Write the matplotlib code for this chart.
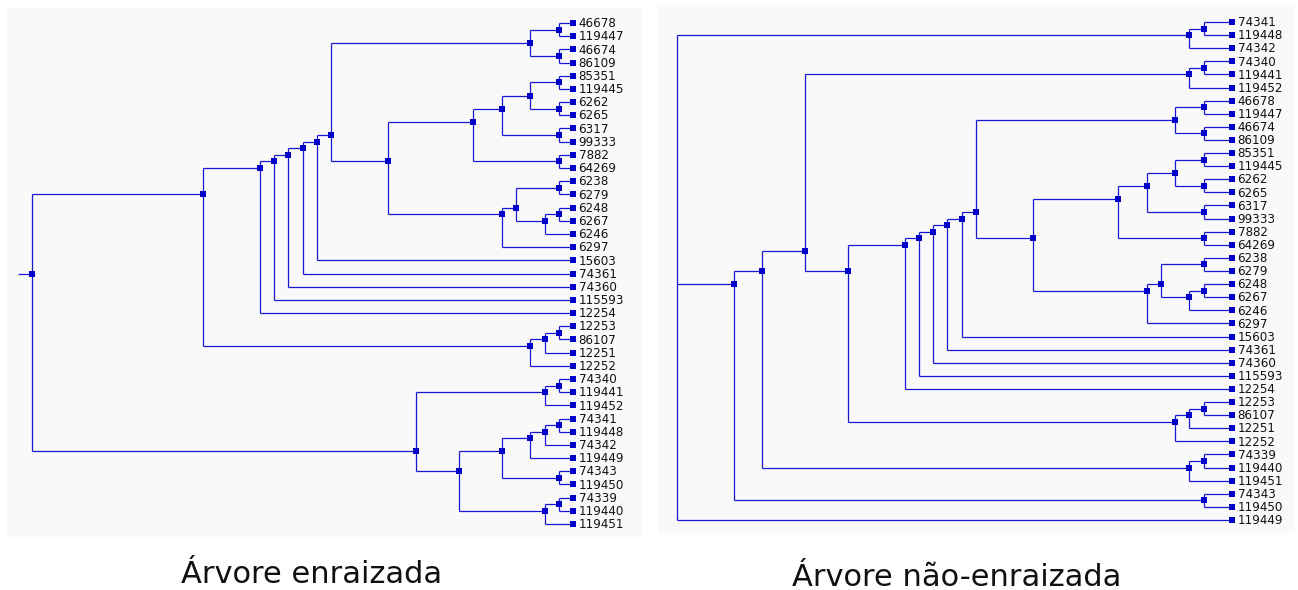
import matplotlib
matplotlib.use("Agg")
import matplotlib.pyplot as plt
import numpy as np

# tree topologies (newick, no branch lengths: drawn as cladograms)
rootedNewick = "((((((((((46678,119447),(46674,86109)),(((((85351,119445),(6262,6265)),(6317,99333)),(7882,64269)),(((6238,6279),((6248,6267),6246)),6297))),15603),74361),74360),115593),12254),(((12253,86107),12251),12252)),(((74340,119441),119452),(((((74341,119448),74342),119449),(74343,119450)),((74339,119440),119451))));"
unrootedNewick = "(((74341,119448),74342),(((((74340,119441),119452),(((((((((46678,119447),(46674,86109)),(((((85351,119445),(6262,6265)),(6317,99333)),(7882,64269)),(((6238,6279),((6248,6267),6246)),6297))),15603),74361),74360),115593),12254),(((12253,86107),12251),12252))),((74339,119440),119451)),(74343,119450)),119449);"

titles = ["Árvore enraizada", "Árvore não-enraizada"]

W, H = 1298, 590
lineColor = "#1818d2"
markColor = "#0000c8"
panelColor = "#f9f9f9"


def parseNewick(s):
    pos = 0

    def node():
        nonlocal pos
        if s[pos] == "(":
            pos += 1
            kids = [node()]
            while s[pos] == ",":
                pos += 1
                kids.append(node())
            pos += 1  # skip ')'
            return kids
        start = pos
        while s[pos] not in ",();":
            pos += 1
        return s[start:pos]

    return node()


def layoutTree(tree, gap):
    # leaves at x=0, internal node x = -(leaf count - 1 + gap), y = mean leaf index
    leaves = []
    hsegs = []  # (y, x0, x1)
    vsegs = []  # (x, y0, y1)
    inner = []  # (x, y)

    def walk(t):
        if isinstance(t, str):
            leaves.append(t)
            i = len(leaves) - 1
            return 0.0, float(i), [i]
        kids = [walk(k) for k in t]
        idx = [i for k in kids for i in k[2]]
        x = -(len(idx) - 1 + gap)
        y = float(np.mean(idx))
        ys = [k[1] for k in kids]
        vsegs.append((x, min(ys), max(ys)))
        for kx, ky, _ in kids:
            hsegs.append((ky, x, kx))
        inner.append((x, y))
        return x, y, idx

    rx, ry, _ = walk(tree)
    return leaves, hsegs, vsegs, inner, (rx, ry)


def drawTree(ax, newick, gap, rootStub):
    leaves, hsegs, vsegs, inner, root = layoutTree(parseNewick(newick), gap)
    hs = np.array(hsegs)
    vs = np.array(vsegs)
    ax.hlines(hs[:, 0], hs[:, 1], hs[:, 2], color=lineColor, lw=0.9)
    ax.vlines(vs[:, 0], vs[:, 1], vs[:, 2], color=lineColor, lw=0.9)
    pts = np.array(inner)
    if rootStub:
        ax.hlines([root[1]], [root[0] - 1], [root[0]], color=lineColor, lw=0.9)
    else:
        # unrooted: no marker on the basal trifurcation
        pts = pts[:-1]
    ax.plot(pts[:, 0], pts[:, 1], "s", color=markColor, ms=4.6, mew=0)
    ly = np.arange(len(leaves))
    ax.plot(np.zeros(len(leaves)), ly, "s", color=markColor, ms=3.8, mew=0)
    for name, y in zip(leaves, ly):
        ax.annotate(name, (0, y), xytext=(4, -0.5), textcoords="offset points",
                    ha="left", va="center", fontsize=8.6, color="#111111")
    return len(leaves)


def makePanel(fig, box, newick, gap, rootStub, xlim, ylim):
    left, top, right, bottom = box
    ax = fig.add_axes([left / W, 1 - bottom / H, (right - left) / W, (bottom - top) / H])
    ax.set_facecolor(panelColor)
    drawTree(ax, newick, gap, rootStub)
    ax.set_xlim(*xlim)
    ax.set_ylim(*ylim)
    ax.set_xticks([])
    ax.set_yticks([])
    for s in ax.spines.values():
        s.set_visible(False)
    return ax


fig = plt.figure(figsize=(W / 100, H / 100), dpi=100)

# rooted tree: root at px 32, leaves at px 573, rows from px 23 to 524
stepL = (573 - 32) / 38
rowL = (524 - 23) / 38
makePanel(fig, (7, 8, 642, 537), rootedNewick, 0, True,
          (-38 - (32 - 7) / stepL, (642 - 573) / stepL),
          (38 + (537 - 524) / rowL, -(23 - 8) / rowL))

# unrooted tree: root at px 677, leaves at px 1232, rows from px 22 to 520
stepR = (1232 - 677) / 39
rowR = (520 - 22) / 38
makePanel(fig, (658, 5, 1295, 533), unrootedNewick, 1, False,
          (-39 - (677 - 658) / stepR, (1295 - 1232) / stepR),
          (38 + (533 - 520) / rowR, -(22 - 5) / rowR))

fig.text(312 / W, 1 - 583 / H, titles[0], ha="center", va="baseline", fontsize=22, color="#111111")
fig.text(957 / W, 1 - 586 / H, titles[1], ha="center", va="baseline", fontsize=22, color="#111111")

fig.savefig("out.png", dpi=100, facecolor="white")
